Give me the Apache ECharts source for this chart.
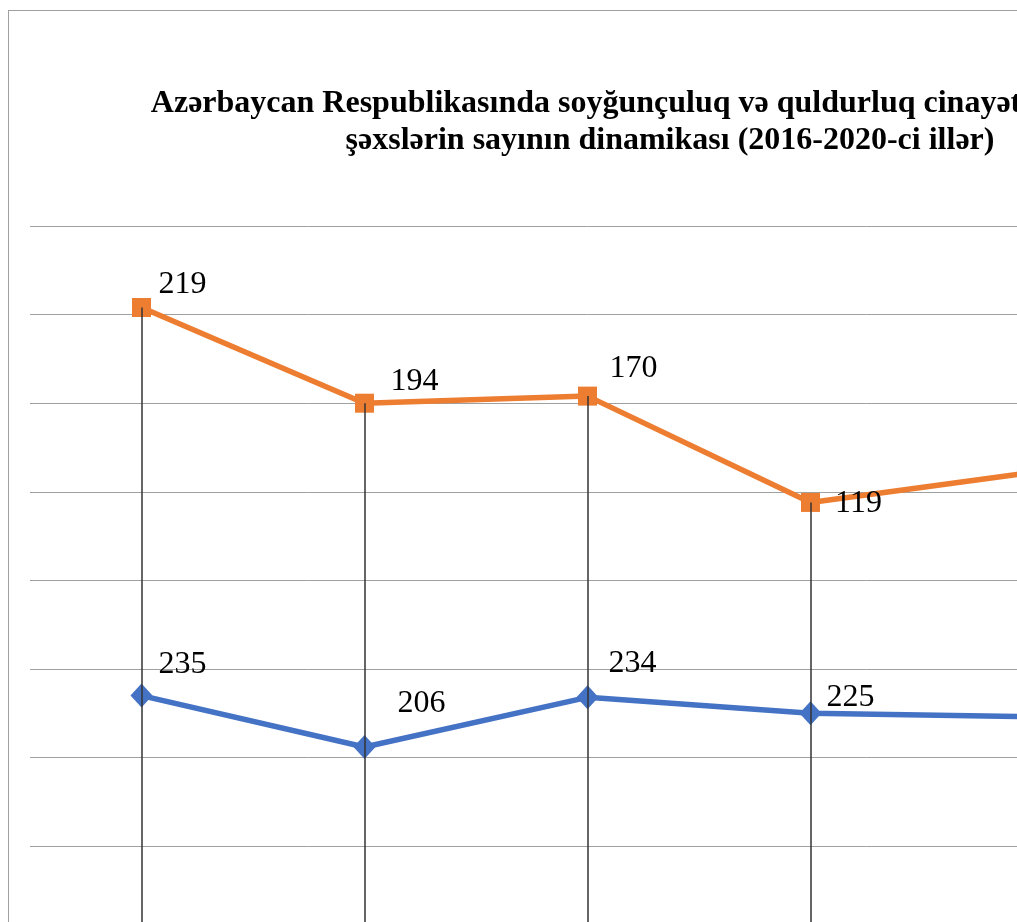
<!DOCTYPE html>
<html>
<head>
<meta charset="utf-8">
<script src="https://cdn.jsdelivr.net/npm/echarts@6/dist/echarts.min.js"></script>
<style>
  html, body { margin: 0; padding: 0; background: #fff; overflow: hidden; }
  /* chart frame is larger than the window: the reference is a crop */
  #chart { position: absolute; left: 8px; top: 10px; width: 1322px; height: 1180px; border: 1px solid #a0a0a0; }
</style>
</head>
<body>
<div id="chart"></div>
<script>
// years on the category axis
const years = ['2016', '2017', '2018', '2019', '2020'];
// blue series (bottom of the stack)
const robbery = [235, 206, 234, 225, 223];
// orange series (stacked on top)
const banditry = [219, 194, 170, 119, 138];

// hand placed data labels, as in the source chart
const blueOffsets = [[41, -31], [57, -43], [45, -34], [40, -16], [40, -16]];
const orangeOffsets = [[41, -23], [50, -22], [46, -28], [48, 1], [45, -25]];

const chart = echarts.init(document.getElementById('chart'));

const labelFont = { color: '#000', fontFamily: 'Liberation Serif', fontSize: 32 };

// drop lines from the top series down to the axis
const dropLines = years.map((y, i) => [
    { coord: [i, robbery[i] + banditry[i]] },
    { coord: [i, 0] }
]);

chart.setOption({
    animation: false,
    title: {
        text: 'Azərbaycan Respublikasında soyğunçuluq və quldurluq cinayətləri törətmiş\nşəxslərin sayının dinamikası (2016-2020-ci illər)',
        left: 'center', top: 74, padding: 0,
        textStyle: { fontFamily: 'Liberation Serif', fontWeight: 'bold', fontSize: 32, lineHeight: 37, color: '#000' }
    },
    grid: { left: 21, top: 215, width: 1115, height: 886 },
    xAxis: {
        type: 'category', data: years, boundaryGap: true,
        axisLine: { lineStyle: { color: '#a0a0a0' } }, axisTick: { show: false },
        axisLabel: { fontFamily: 'Liberation Serif', fontSize: 20, color: '#000' }
    },
    yAxis: {
        type: 'value', min: 0, max: 500, interval: 50,
        axisLabel: { show: false }, axisLine: { show: false }, axisTick: { show: false },
        splitLine: { lineStyle: { color: '#a0a0a0', width: 1 } }
    },
    series: [
        {
            name: 'soyğunçuluq', type: 'line', stack: 'total', data: robbery,
            symbol: 'diamond', symbolSize: [22, 24],
            lineStyle: { color: '#4472C4', width: 5.5 },
            itemStyle: { color: '#4472C4' },
            label: { show: true, position: 'inside', ...labelFont },
            labelLayout: (p) => ({ dx: blueOffsets[p.dataIndex][0], dy: blueOffsets[p.dataIndex][1] }),
            z: 3
        },
        {
            name: 'quldurluq', type: 'line', stack: 'total', data: banditry,
            symbol: 'rect', symbolSize: 19,
            lineStyle: { color: '#ED7D31', width: 5.5 },
            itemStyle: { color: '#ED7D31' },
            label: { show: true, position: 'inside', ...labelFont },
            labelLayout: (p) => ({ dx: orangeOffsets[p.dataIndex][0], dy: orangeOffsets[p.dataIndex][1] }),
            markLine: {
                silent: true, symbol: 'none', label: { show: false },
                lineStyle: { color: '#333', width: 1.5, type: 'solid' },
                data: dropLines, z: 10
            },
            z: 4
        }
    ]
});
</script>
</body>
</html>
